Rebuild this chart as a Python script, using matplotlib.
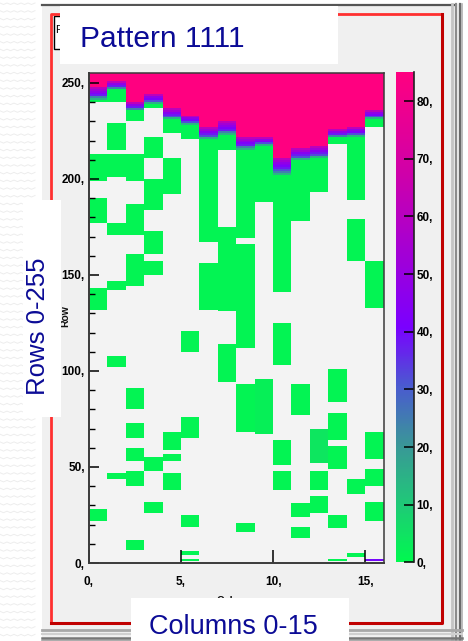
import numpy as np
import matplotlib
matplotlib.use("Agg")
import matplotlib.pyplot as plt
from matplotlib.colors import LinearSegmentedColormap
from matplotlib.patches import Rectangle

plt.rcParams['font.family'] = ['Liberation Sans', 'DejaVu Sans']

n_cols = 16
n_rows = 256
z_max = 85

# saturated top band: first row that is below max, length of the colour fade, last row of the green tail
pink_edge = [248, 251, 240, 244, 237, 233, 227, 230, 222, 222, 211, 216, 217, 226, 227, 236]
fade_len = [7, 4, 4, 5, 6, 5, 6, 7, 7, 5, 9, 6, 6, 4, 5, 5]
tail_end = [240, 240, 230, 237, 224, 221, 167, 215, 169, 188, 141, 178, 193, 218, 189, 227]
fade_profile = [62, 54, 48, 45, 42, 38, 32, 24, 14, 5]

# isolated low-count blocks: column, first row, last row (exclusive), value
block_col = [0, 0, 0, 0,
             1, 1, 1, 1, 1, 1,
             2, 2, 2, 2, 2, 2, 2, 2,
             3, 3, 3, 3, 3, 3,
             4, 4, 4, 4,
             5, 5, 5, 5, 5,
             6,
             7, 7,
             8, 8, 8,
             9,
             10, 10, 10,
             11, 11, 11,
             12, 12, 12,
             13, 13, 13, 13, 13,
             14, 14, 14,
             15, 15, 15, 15, 15]
block_lo = [199, 177, 132, 22,
            215, 201, 171, 142, 102, 44,
            199, 171, 144, 80, 65, 53, 40, 7,
            211, 184, 161, 150, 48, 26,
            192, 59, 53, 38,
            110, 65, 19, 4, 1,
            132,
            131, 94,
            112, 68, 16,
            67,
            103, 51, 38,
            77, 24, 13,
            52, 38, 26,
            84, 64, 49, 18, 1,
            157, 36, 3,
            133, 54, 40, 22, 1]
block_hi = [213, 190, 143, 28,
            229, 213, 177, 147, 108, 47,
            213, 187, 161, 91, 73, 60, 48, 12,
            222, 200, 173, 157, 55, 32,
            211, 68, 57, 47,
            121, 76, 25, 6, 2,
            156,
            175, 114,
            166, 93, 21,
            96,
            125, 64, 48,
            93, 31, 19,
            70, 48, 35,
            101, 78, 61, 25, 2,
            179, 44, 5,
            157, 68, 49, 32, 2]
block_val = [1, 1, 1, 1,
             1, 1, 1, 1, 1, 1,
             1, 1, 1, 1, 1, 1, 1, 1,
             1, 1, 1, 1, 1, 1,
             1, 1, 1, 1,
             1, 1, 1, 1, 1,
             1,
             1, 1,
             1, 1, 1,
             2,
             1, 1, 1,
             1, 1, 1,
             4, 1, 1,
             1, 1, 1, 1, 1,
             1, 1, 1,
             1, 1, 1, 1, 40]

x_ticks = [0, 5, 10, 15]
y_ticks = [0, 50, 100, 150, 200, 250]
z_ticks = [0, 10, 20, 30, 40, 50, 60, 70, 80]

cmap_pos = [0.0, 0.12, 0.24, 0.36, 0.48, 0.62, 0.8, 1.0]
cmap_hex = ['#00f94f', '#20c878', '#3a9698', '#4a5ad0', '#7a00ff',
            '#a000d8', '#d000a8', '#ff0080']

# ---- build the histogram ----
z = np.zeros((n_rows, n_cols))
for c in range(n_cols):
    z[pink_edge[c]:, c] = z_max + 5
    n = fade_len[c]
    for k in range(n):
        z[pink_edge[c] - 1 - k, c] = fade_profile[k * len(fade_profile) // n]
    z[tail_end[c]:pink_edge[c] - n, c] = 1
for c, lo, hi, v in zip(block_col, block_lo, block_hi, block_val):
    z[lo:hi, c] = v
z = np.ma.masked_equal(z, 0)

cmap = LinearSegmentedColormap.from_list('pal', list(zip(cmap_pos, cmap_hex)))

W, H = 468, 641
fig = plt.figure(figsize=(W / 100, H / 100), dpi=100)
fig.patch.set_facecolor('white')

# ---- screenshot frame (pixel coordinates) ----
bg = fig.add_axes([0, 0, 1, 1], zorder=0)
bg.set_xlim(0, W)
bg.set_ylim(H, 0)
bg.axis('off')
zx = np.arange(0, 37, 3.5)
for yy in np.arange(3, H, 7.7):
    bg.plot(zx, yy + 1.5 * (np.arange(len(zx)) % 2), color='#ededed', lw=0.7)
bg.add_patch(Rectangle((42, 4), 420, H, fc='#f0f0f0', ec='none'))
bg.plot([42, 455], [5, 5], color='#555555', lw=1.6)
for xx, col, lw in [(452, '#c4c4c4', 2.0), (456, '#8c8c8c', 1.6), (459.5, '#6a6a6a', 1.6), (462, '#b0b0b0', 1.2)]:
    bg.plot([xx, xx], [4, H], color=col, lw=lw)
for yy, col, lw in [(630, '#a8a8a8', 2.0), (634, '#d0d0d0', 1.5), (637.5, '#777777', 1.8), (640.5, '#a0a0a0', 1.2)]:
    bg.plot([42, 462], [yy, yy], color=col, lw=lw)
bg.plot([51, 51, 442], [623, 13.5, 13.5], color='#ff3030', lw=2.0)
bg.plot([51, 442, 442], [623, 623, 13.5], color='#c00000', lw=2.2)
bg.add_patch(Rectangle((53.5, 15.5), 70, 33, fc='white', ec='black', lw=1.0))
bg.text(55, 30, 'P', fontsize=8, color='black', va='center')
bg.text(65.5, 316, 'Row', rotation=90, fontsize=7.5, fontweight='bold',
        ha='center', va='center', color='#111111')
bg.text(236, 596, 'Column', fontsize=7.5, fontweight='bold',
        ha='center', va='top', color='#111111')

# ---- histogram ----
ax = fig.add_axes([89 / W, (H - 563) / H, 294.5 / W, 489.7 / H], zorder=2)
ax.set_facecolor('#f3f3f3')
mesh = ax.pcolormesh(np.arange(n_cols + 1), np.arange(n_rows + 1), z,
                     cmap=cmap, vmin=0, vmax=z_max, shading='flat',
                     edgecolors='none', antialiased=False)
ax.set_xlim(0, 16)
ax.set_ylim(0, 255)
ax.set_xticks(x_ticks)
ax.set_xticklabels([f"{v}," for v in x_ticks], fontweight='bold')
ax.set_yticks(y_ticks)
ax.set_yticklabels([f"{v}," for v in y_ticks], fontweight='bold')
ax.set_yticks(np.arange(0, 256, 10), minor=True)
ax.tick_params(axis='x', which='major', direction='in', length=9.5, width=1.1,
               pad=9.5, labelsize=8.5, colors='black')
ax.tick_params(axis='y', which='major', direction='in', length=7.2, width=1.1,
               pad=3, labelsize=8.5)
ax.tick_params(axis='y', which='minor', direction='in', length=4.3, width=1.0)
ax.tick_params(top=False, right=False)
for s in ax.spines.values():
    s.set_color('#3a3a3a')
    s.set_linewidth(1.1)
for s in ['left', 'bottom']:
    ax.spines[s].set_linewidth(1.4)

# ---- colour scale ----
cax = fig.add_axes([396 / W, (H - 562.3) / H, 18.3 / W, 490 / H], zorder=2)
cb = fig.colorbar(mesh, cax=cax, ticks=z_ticks)
cb.outline.set_visible(False)
cb.set_ticklabels([f"{v}," for v in z_ticks], fontweight='bold')
cax.tick_params(direction='in', length=7.2, width=1.1, pad=1.5, labelsize=8.5)
cax.axvline(1, color='#222222', lw=1.2, clip_on=False)

# ---- white annotation boxes ----
ov = fig.add_axes([0, 0, 1, 1], zorder=10)
ov.set_xlim(0, W)
ov.set_ylim(H, 0)
ov.axis('off')
ov.patch.set_alpha(0)
ov.add_patch(Rectangle((60, 6), 278, 58, fc='white', ec='none'))
ov.text(80, 47, 'Pattern 1111', fontsize=21.5, color='#0b0b96', va='baseline')
ov.add_patch(Rectangle((23, 200), 38, 217, fc='white', ec='none'))
ov.text(38, 326.5, 'Rows 0-255', fontsize=18.5, color='#0b0b96', rotation=90,
        ha='center', va='center')
ov.add_patch(Rectangle((131, 598), 218, 50, fc='white', ec='none'))
ov.text(233.5, 634, 'Columns 0-15', fontsize=19.5, color='#0b0b96',
        ha='center', va='baseline')

fig.savefig('out.png', dpi=100)
